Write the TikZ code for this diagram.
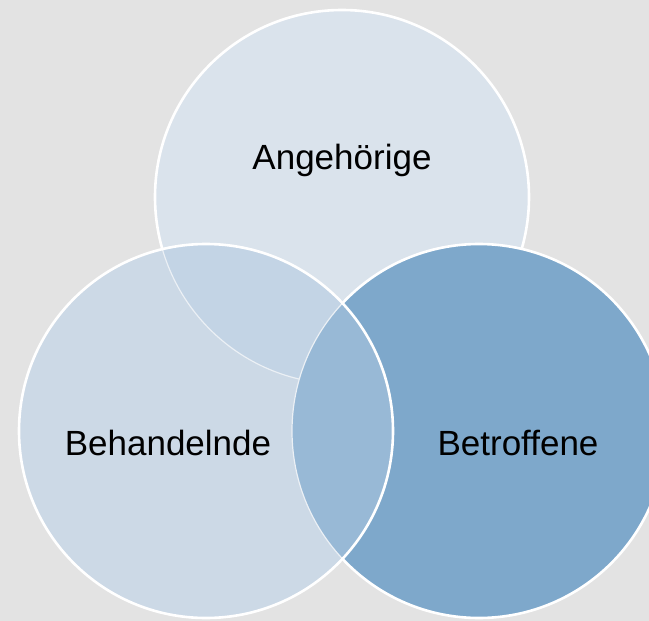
\documentclass[tikz,border=0pt]{standalone}
\usepackage{fontspec}
\setmainfont{Liberation Sans}
\usetikzlibrary{positioning}
\definecolor{bggray}{HTML}{E3E3E3}
\definecolor{topfill}{HTML}{DAE3EC}
\definecolor{leftfill}{HTML}{CCD9E6}
\definecolor{rightfill}{HTML}{7EA8CB}
\definecolor{topleft}{HTML}{C3D4E5}
\definecolor{leftright}{HTML}{98B9D6}
\tikzset{
  ring/.style={circle, minimum size=374pt, inner sep=0pt, draw=white, line width=2.6pt},
  setlabel/.style={font=\fontsize{35}{40}\selectfont, text=black}
}

\begin{document}
\begin{tikzpicture}[x=1pt,y=-1pt]
  \fill[bggray] (0,0) rectangle (649,621);
  \useasboundingbox (0,0) rectangle (649,621);
  \node[ring, fill=topfill]   (top)   at (342,197) {};
  \node[ring, fill=rightfill] (right) at (479,431) {};
  \node[ring, fill=leftfill, draw=none] (left) at (206,431) {};
  % overlaps seen through the left set
  \begin{scope}
    \clip (left.center) circle (187);
    \fill[topleft] (top.center) circle (187);
    \draw[white!60!leftfill, line width=1.2pt] (top.center) circle (187);
    \fill[leftright] (right.center) circle (187);
    \draw[white!60!leftfill, line width=1.2pt] (right.center) circle (187);
  \end{scope}
  \draw[white, line width=2.6pt] (left.center) circle (187);
  \node[setlabel] (ang) at (342,160) {Angehörige};
  \node[setlabel] (beh) at (168,443) {Behandelnde};
  \node[setlabel] (bet) at (518,443) {Betroffene};
\end{tikzpicture}
\end{document}
